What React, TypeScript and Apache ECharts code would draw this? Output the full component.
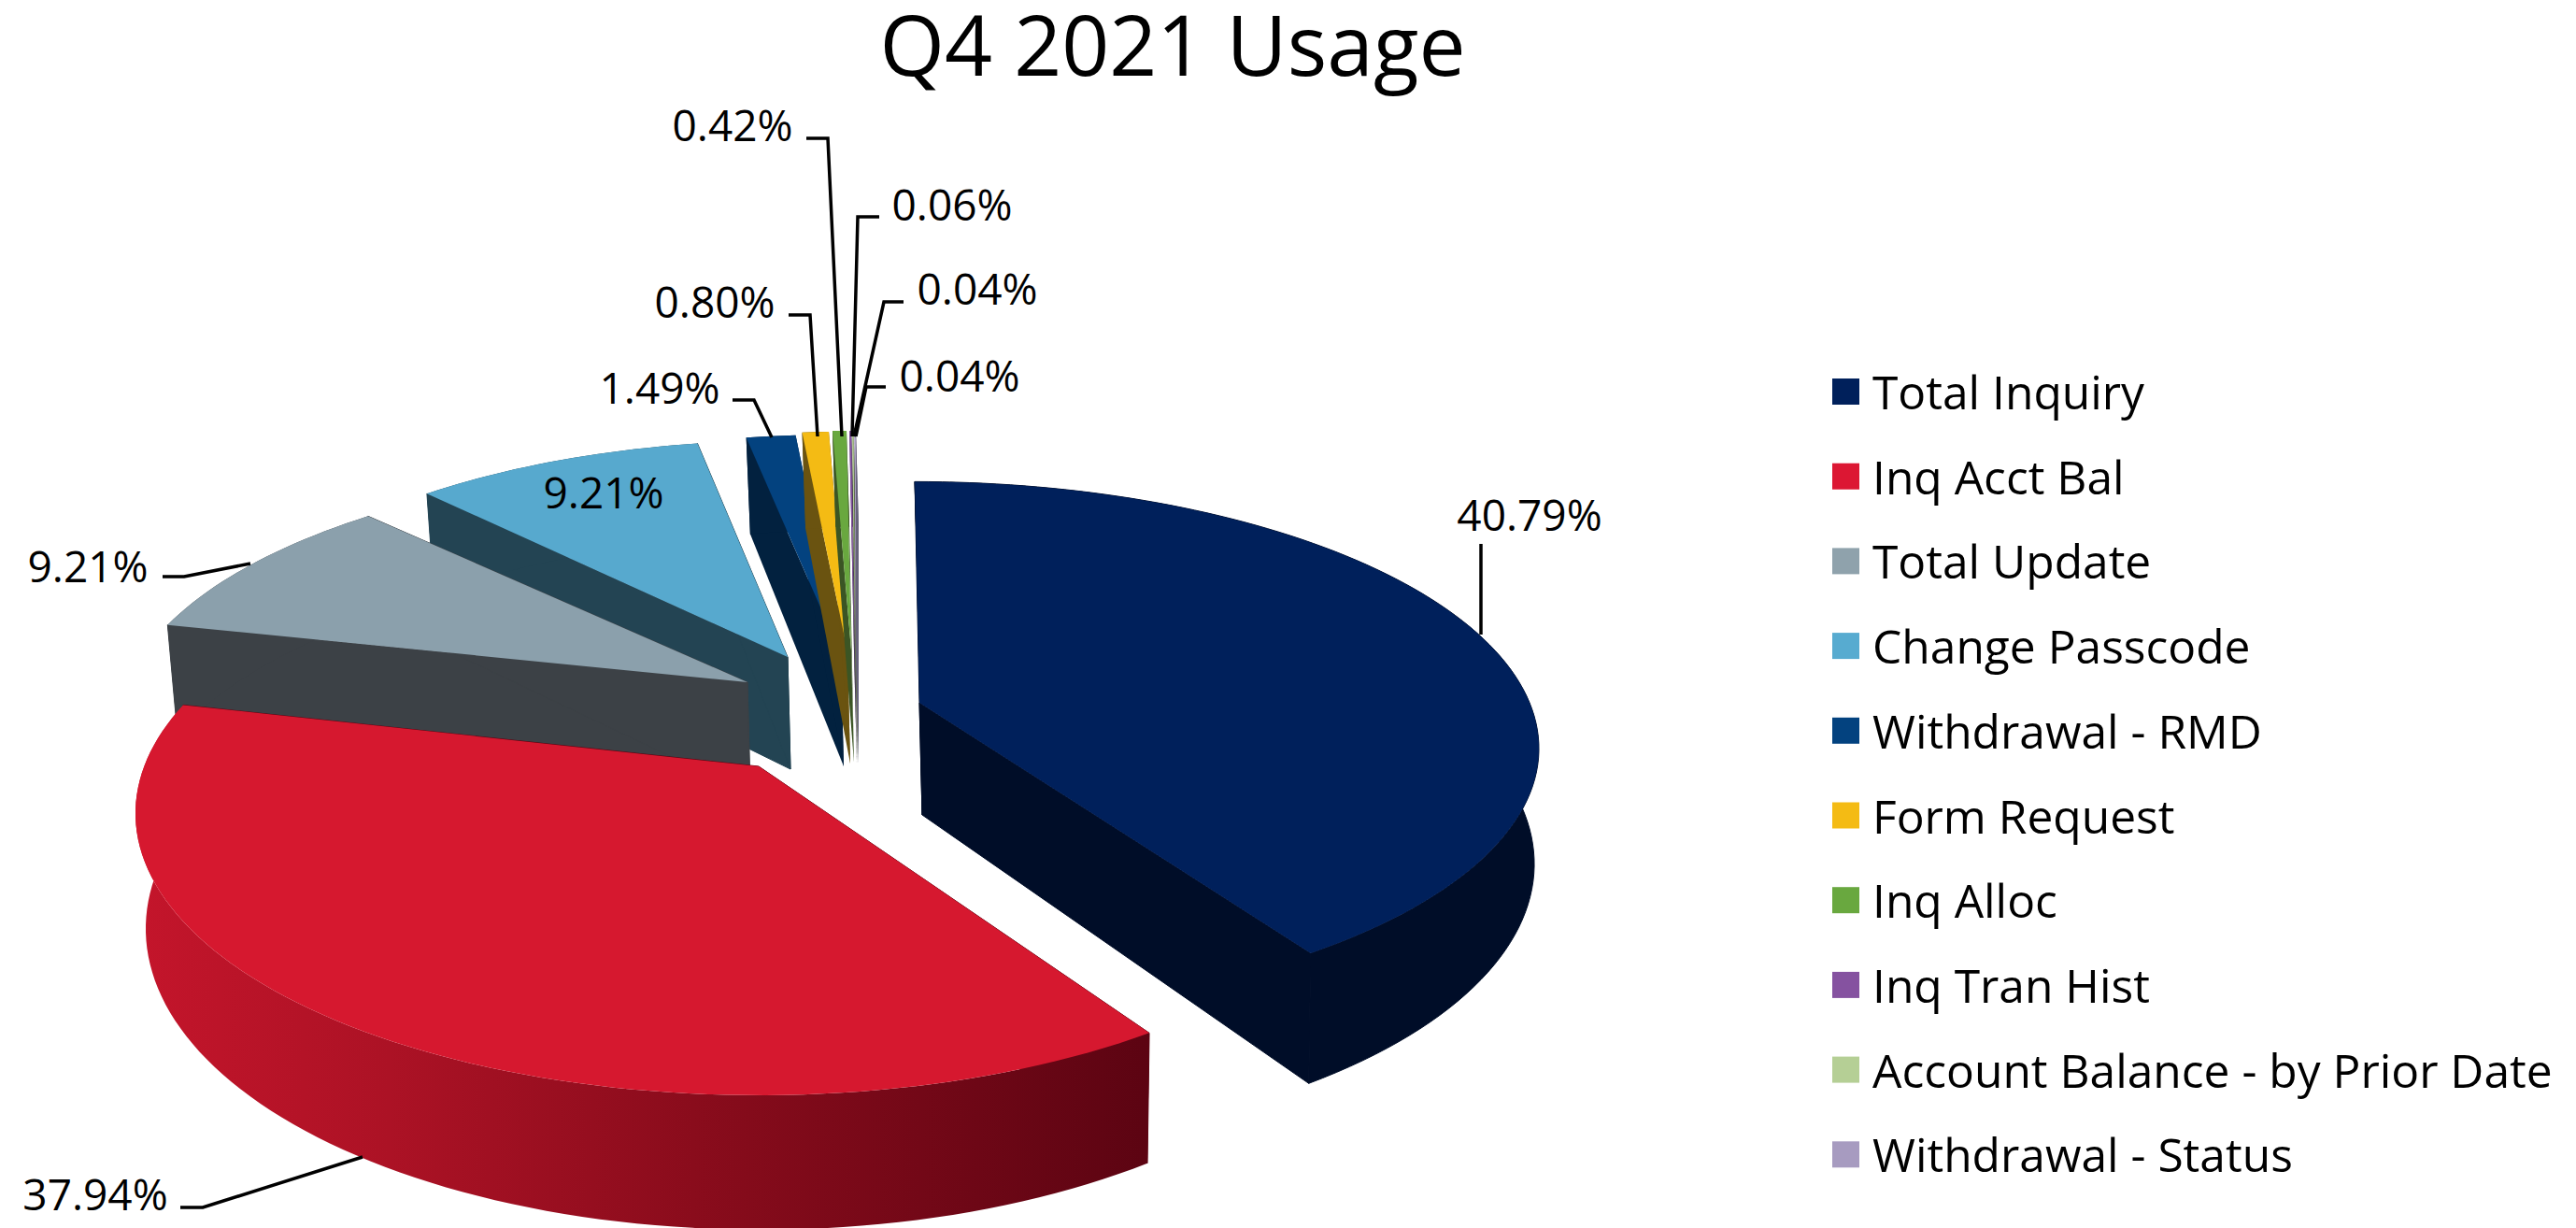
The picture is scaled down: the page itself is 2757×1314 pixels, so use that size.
import React, { useEffect, useRef } from "react";
import * as echarts from "echarts";

// ---- data ----
const categories = ["Total Inquiry", "Inq Acct Bal", "Total Update", "Change Passcode", "Withdrawal - RMD", "Form Request", "Inq Alloc", "Inq Tran Hist", "Account Balance - by Prior Date", "Withdrawal - Status"];
const shares = [40.79, 37.94, 9.21, 9.21, 1.49, 0.8, 0.42, 0.06, 0.04, 0.04];

// ---- styles ----
const topColors = ["#00205b", "#d6182f", "#8ba0ac", "#57a9ce", "#03427f", "#f4bb14", "#69a83f", "#8552a0", "#b5cf95", "#a79bc0"];
const faceColors = ["#000d28", "#5e0412", "#3c4146", "#234453", "#02213f", "#6a5310", "#3b5524", "#4a3a5a", "#5f6c50", "#66627a"];
const legendColors = ["#00205b", "#dc1733", "#8fa2ac", "#57abd0", "#03427f", "#f4bb14", "#69a83f", "#8552a0", "#b5cf95", "#a79bc0"];
const sliceZ = [4, 3, 2, 1, 4, 4, 4, 4, 4, 4];

// ---- layout of the projected, exploded pie ----
const RADIUS = 663;
const TILT = 0.414;
const PERSPECTIVE = 0.168;
const DEPTH = 120;
const BOTTOM_SCALE = 0.988;
const BOTTOM_SHIFT = 3;
const sliceCentres: [number, number][] = [[984, 752], [812, 820], [800, 730], [843, 703], [900, 700], [907, 697], [911, 696], [914, 696], [915, 696], [916, 696]];
const radiusScale = [0.985, 0.992, 1, 0.945, 1, 1, 1, 1, 1, 1];
const tiltScale = [1.02, 1.077, 1, 1.035, 1, 1, 1, 1, 1, 1];
const sliceSkew = [5, 0, 0, 0, 0, 0, 0, 0, 0, 0];

const labelLayout: { x: number; y: number; line: number[][] }[] = [
  { x: 1637, y: 550, line: [[1585, 582], [1585, 679]] },
  { x: 102, y: 1277, line: [[193, 1292], [217, 1292], [388, 1238]] },
  { x: 94, y: 605, line: [[174, 617], [197, 617], [268, 603]] },
  { x: 646, y: 526, line: [] },
  { x: 706, y: 414, line: [[784, 428], [807, 428], [826, 468]] },
  { x: 765, y: 322, line: [[844, 337], [867, 337], [875, 467]] },
  { x: 784, y: 133, line: [[863, 148], [886, 148], [901, 467]] },
  { x: 1019, y: 218, line: [[941, 232], [918, 232], [912, 467]] },
  { x: 1046, y: 308, line: [[967, 323], [946, 323], [914, 467]] },
  { x: 1027, y: 401, line: [[948, 414], [927, 414], [916, 467]] },
];

const FONT = '"Open Sans", sans-serif';
const total = shares.reduce((a, b) => a + b, 0);

function project(index: number, deg: number, r: number): [number, number, number] {
  const [cx, cy] = sliceCentres[index];
  const a = (deg * Math.PI) / 180;
  const X = r * radiusScale[index] * Math.sin(a);
  const Z = -r * radiusScale[index] * Math.cos(a);
  const s = 1 / (1 - (PERSPECTIVE * Z) / RADIUS);
  return [cx + X * s + (sliceSkew[index] * Z) / RADIUS, cy + Z * TILT * tiltScale[index] * s, s];
}
function lower(cx: number, p: [number, number, number]): number[] {
  return [cx + (p[0] - cx) * BOTTOM_SCALE + BOTTOM_SHIFT, p[1] + DEPTH * p[2]];
}

function renderSlice(index: number) {
  return (_params: any, api: any) => {
    const value = api.value(0);
    const before = shares.slice(0, index).reduce((a, b) => a + b, 0);
    const start = (before / total) * 360;
    const end = ((before + value) / total) * 360;
    const cx = sliceCentres[index][0];
    const steps = Math.max(2, Math.ceil((end - start) / 1.5));
    const rim: [number, number, number][] = [];
    for (let i = 0; i <= steps; i++) rim.push(project(index, start + ((end - start) * i) / steps, RADIUS));
    const apex = project(index, 0, 0);
    const apexLow = lower(cx, apex);
    const rimLow = rim.map((p) => lower(cx, p));
    const wallFill =
      index === 1
        ? new echarts.graphic.LinearGradient(0, 0, 1, 0, [
            { offset: 0, color: "#c4152b" },
            { offset: 0.25, color: "#ac1225" },
            { offset: 0.55, color: "#8a0c1c" },
            { offset: 1, color: "#5c0412" },
          ])
        : faceColors[index];
    const poly = (points: number[][], fill: any, seal = false) => ({
      type: "polygon",
      shape: { points },
      style: seal ? { fill, stroke: fill, lineWidth: 1 } : { fill },
    });
    return {
      type: "group",
      children: [
        poly([apex.slice(0, 2), rim[0].slice(0, 2), rimLow[0], apexLow], faceColors[index], index < 4),
        poly([apex.slice(0, 2), rim[steps].slice(0, 2), rimLow[steps], apexLow], faceColors[index], index < 4),
        poly([...rim.map((p) => p.slice(0, 2)), ...rimLow.slice().reverse()], wallFill, index === 0),
        poly([apex.slice(0, 2), ...rim.map((p) => p.slice(0, 2))], topColors[index]),
      ],
    };
  };
}

export default function App() {
  const ref = useRef<HTMLDivElement>(null);
  useEffect(() => {
    document.body.style.margin = "0";
    const chart = echarts.init(ref.current!, undefined, { renderer: "svg" });
    const graphics: any[] = [];
    labelLayout.forEach((l, i) => {
      if (l.line.length) {
        graphics.push({
          type: "polyline",
          z: 20,
          shape: { points: l.line },
          style: { stroke: "#000", lineWidth: 3.5, fill: null },
        });
      }
      graphics.push({
        type: "text",
        z: 21,
        x: l.x,
        y: l.y,
        style: {
          text: shares[i].toFixed(2) + "%",
          font: `46px ${FONT}`,
          fill: "#000",
          align: "center",
          verticalAlign: "middle",
        },
      });
    });
    chart.setOption({
      animation: false,
      backgroundColor: "#fff",
      title: {
        text: "Q4 2021 Usage",
        left: 1255,
        top: 2,
        padding: 0,
        textAlign: "center",
        textStyle: { fontFamily: FONT, fontWeight: "normal", fontSize: 89.3, color: "#000" },
      },
      legend: {
        orient: "vertical",
        left: 1956,
        top: 384,
        itemWidth: 29,
        itemHeight: 28,
        itemGap: 30.7,
        icon: "rect",
        data: categories,
        selectedMode: false,
        textStyle: { fontFamily: FONT, fontSize: 49.7, color: "#000", padding: [0, 0, 0, 9], lineHeight: 60 },
      },
      series: categories.map((name, i) => ({
        type: "custom",
        name,
        coordinateSystem: "none",
        silent: true,
        z: sliceZ[i],
        itemStyle: { color: legendColors[i] },
        data: [[shares[i]]],
        renderItem: renderSlice(i),
      })),
      graphic: graphics,
    });
    return () => chart.dispose();
  }, []);
  return <div ref={ref} style={{ position: "fixed", left: 0, top: 0, width: 2757, height: 1314 }} />;
}
